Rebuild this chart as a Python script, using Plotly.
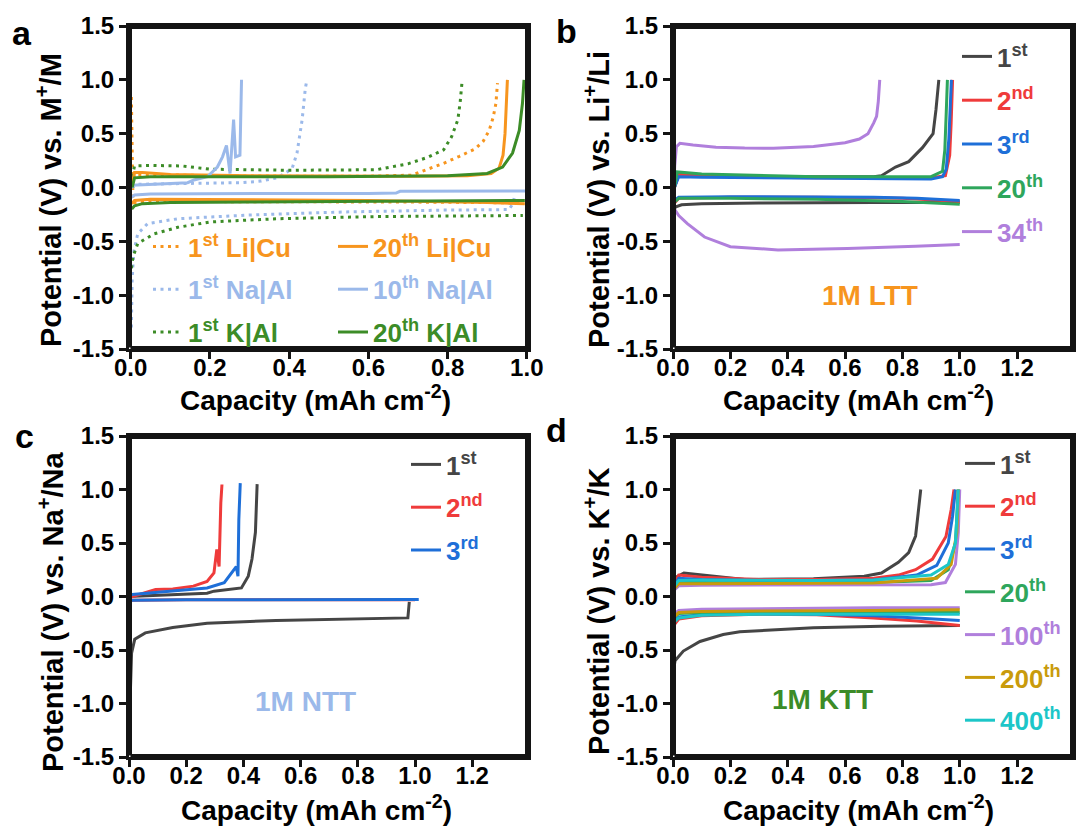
import plotly.graph_objects as go

W, H = 1077, 830
FONT = "Liberation Sans, Arial, sans-serif"

# ---------------- colours ----------------
INK = "#141414"
ORANGE = "#F7951E"
LBLUE = "#9BB9EA"
GREEN = "#3C8C27"
GRAY = "#454545"
RED = "#EF3B3B"
BLUE = "#1E6FD8"
GREEN2 = "#2EA65C"
PURPLE = "#B07FDC"
GOLD = "#C99B0C"
CYAN = "#1CC6C8"

# ---------------- tick values ----------------
x_major_a = [0.0, 0.2, 0.4, 0.6, 0.8, 1.0]
x_minor_a = [0.1, 0.3, 0.5, 0.7, 0.9]
x_major_bcd = [0.0, 0.2, 0.4, 0.6, 0.8, 1.0, 1.2]
x_minor_bcd = [0.1, 0.3, 0.5, 0.7, 0.9, 1.1, 1.3]
y_major = [-1.5, -1.0, -0.5, 0.0, 0.5, 1.0, 1.5]
y_minor = [-1.25, -0.75, -0.25, 0.25, 0.75, 1.25]

# ---------------- panel a (Li|Cu, Na|Al, K|Al) ----------------
a_li1_dis_x = [0.002, 0.003, 0.004, 0.006, 0.01, 0.03, 0.1, 0.3, 0.5, 0.7, 0.9, 0.99]
a_li1_dis_v = [0.84, 0.5, 0.1, -0.12, -0.14, -0.135, -0.13, -0.13, -0.13, -0.135, -0.14, -0.145]
a_li1_chg_x = [0.002, 0.01, 0.05, 0.2, 0.4, 0.6, 0.71, 0.75, 0.79, 0.83, 0.87, 0.89, 0.905, 0.915, 0.922, 0.926]
a_li1_chg_v = [0.02, 0.12, 0.12, 0.11, 0.105, 0.105, 0.115, 0.17, 0.225, 0.29, 0.36, 0.43, 0.53, 0.65, 0.78, 0.97]
a_li20_dis_x = [0.003, 0.01, 0.05, 0.2, 0.4, 0.6, 0.8, 0.9, 0.995]
a_li20_dis_v = [-0.15, -0.12, -0.11, -0.11, -0.115, -0.12, -0.13, -0.14, -0.15]
a_li20_chg_x = [0.004, 0.01, 0.03, 0.1, 0.3, 0.5, 0.7, 0.85, 0.91, 0.93, 0.94, 0.945, 0.948, 0.951]
a_li20_chg_v = [0.02, 0.14, 0.14, 0.12, 0.11, 0.105, 0.105, 0.11, 0.13, 0.18, 0.3, 0.5, 0.75, 1.0]
a_na1_dis_x = [0.002, 0.004, 0.008, 0.018, 0.043, 0.12, 0.29, 0.54, 0.79, 0.955, 0.965, 0.97]
a_na1_dis_v = [-1.3, -0.85, -0.6, -0.43, -0.335, -0.29, -0.257, -0.227, -0.21, -0.205, -0.15, -0.07]
a_na1_chg_x = [0.003, 0.02, 0.1, 0.2, 0.28, 0.33, 0.37, 0.395, 0.408, 0.42, 0.433, 0.441, 0.444]
a_na1_chg_v = [0.0, 0.03, 0.035, 0.04, 0.045, 0.06, 0.09, 0.145, 0.18, 0.32, 0.63, 0.92, 0.98]
a_na10_dis_x = [0.002, 0.01, 0.05, 0.2, 0.4, 0.6, 0.67, 0.68, 0.8, 0.9, 1.0]
a_na10_dis_v = [-0.09, -0.07, -0.06, -0.056, -0.055, -0.055, -0.052, -0.035, -0.033, -0.032, -0.032]
a_na10_chg_x = [0.003, 0.05, 0.1, 0.144, 0.16, 0.194, 0.219, 0.232, 0.242, 0.251, 0.26, 0.265, 0.276, 0.278, 0.28]
a_na10_chg_v = [0.02, 0.03, 0.035, 0.045, 0.07, 0.1, 0.19, 0.285, 0.39, 0.13, 0.63, 0.285, 0.3, 0.6, 1.0]
a_k1_dis_x = [0.002, 0.006, 0.018, 0.06, 0.119, 0.2, 0.37, 0.62, 0.8, 0.99]
a_k1_dis_v = [-0.75, -0.646, -0.52, -0.43, -0.37, -0.32, -0.29, -0.27, -0.265, -0.26]
a_k1_chg_x = [0.004, 0.01, 0.05, 0.13, 0.2, 0.4, 0.62, 0.7, 0.75, 0.79, 0.81, 0.826, 0.832, 0.837]
a_k1_chg_v = [0.1, 0.2, 0.205, 0.2, 0.17, 0.16, 0.165, 0.22, 0.28, 0.35, 0.47, 0.63, 0.8, 1.0]
a_k20_dis_x = [0.003, 0.01, 0.03, 0.1, 0.3, 0.6, 0.9, 0.995]
a_k20_dis_v = [-0.2, -0.17, -0.15, -0.14, -0.135, -0.13, -0.125, -0.12]
a_k20_chg_x = [0.004, 0.01, 0.05, 0.2, 0.5, 0.8, 0.9, 0.939, 0.964, 0.981, 0.989, 0.993]
a_k20_chg_v = [0.0, 0.09, 0.1, 0.1, 0.1, 0.11, 0.13, 0.19, 0.32, 0.53, 0.78, 1.0]

# ---------------- panel b (1M LTT) ----------------
b_c1_dis_x = [0.003, 0.01, 0.03, 0.1, 0.3, 0.5, 0.7, 0.9, 1.0]
b_c1_dis_v = [-0.2, -0.18, -0.16, -0.15, -0.145, -0.14, -0.14, -0.14, -0.14]
b_c1_chg_x = [0.005, 0.02, 0.1, 0.3, 0.5, 0.7, 0.727, 0.776, 0.822, 0.87, 0.907, 0.917, 0.927]
b_c1_chg_v = [0.0, 0.12, 0.11, 0.1, 0.1, 0.1, 0.11, 0.19, 0.24, 0.37, 0.5, 0.72, 1.0]
b_c2_dis_x = [0.003, 0.02, 0.2, 0.5, 0.8, 1.0]
b_c2_dis_v = [-0.15, -0.1, -0.09, -0.09, -0.1, -0.13]
b_c2_chg_x = [0.005, 0.02, 0.1, 0.3, 0.5, 0.7, 0.9, 0.95, 0.965, 0.97, 0.975]
b_c2_chg_v = [0.0, 0.12, 0.11, 0.095, 0.09, 0.09, 0.09, 0.11, 0.3, 0.6, 1.0]
b_c3_dis_x = [0.003, 0.02, 0.2, 0.5, 0.7, 0.85, 1.0]
b_c3_dis_v = [-0.12, -0.09, -0.085, -0.085, -0.09, -0.1, -0.12]
b_c3_chg_x = [0.005, 0.02, 0.1, 0.3, 0.5, 0.7, 0.9, 0.94, 0.953, 0.962, 0.967, 0.971]
b_c3_chg_v = [0.0, 0.1, 0.095, 0.09, 0.085, 0.08, 0.08, 0.1, 0.17, 0.45, 0.7, 1.0]
b_c20_dis_x = [0.003, 0.02, 0.2, 0.5, 0.8, 1.0]
b_c20_dis_v = [-0.14, -0.1, -0.1, -0.11, -0.13, -0.155]
b_c20_chg_x = [0.005, 0.015, 0.1, 0.3, 0.5, 0.7, 0.9, 0.94, 0.948, 0.953, 0.957]
b_c20_chg_v = [0.0, 0.145, 0.125, 0.11, 0.1, 0.1, 0.1, 0.15, 0.35, 0.7, 1.0]
b_c34_dis_x = [0.0, 0.005, 0.02, 0.05, 0.11, 0.2, 0.366, 0.5, 0.608, 0.846, 1.0]
b_c34_dis_v = [-0.1, -0.2, -0.26, -0.335, -0.46, -0.55, -0.58, -0.575, -0.567, -0.545, -0.53]
b_c34_chg_x = [0.0, 0.006, 0.012, 0.024, 0.07, 0.15, 0.25, 0.35, 0.49, 0.6, 0.65, 0.68, 0.7, 0.71, 0.716, 0.721]
b_c34_chg_v = [-0.15, 0.2, 0.38, 0.41, 0.395, 0.375, 0.366, 0.365, 0.38, 0.415, 0.45, 0.5, 0.6, 0.66, 0.8, 1.0]

# ---------------- panel c (1M NTT) ----------------
c_c1_dis_x = [0.0, 0.003, 0.006, 0.009, 0.02, 0.057, 0.153, 0.273, 0.514, 0.755, 0.975, 0.98]
c_c1_dis_v = [-1.3, -1.0, -0.7, -0.53, -0.4, -0.34, -0.29, -0.25, -0.224, -0.21, -0.2, -0.05]
c_c1_chg_x = [0.0, 0.153, 0.273, 0.297, 0.393, 0.417, 0.43, 0.442, 0.448]
c_c1_chg_v = [0.0, 0.017, 0.03, 0.05, 0.08, 0.19, 0.35, 0.6, 1.05]
c_c2_dis_x = [0.0, 0.01, 0.2, 0.5, 0.8, 1.0]
c_c2_dis_v = [-0.06, -0.035, -0.03, -0.03, -0.03, -0.03]
c_c2_chg_x = [0.0, 0.093, 0.153, 0.225, 0.273, 0.297, 0.307, 0.315, 0.321, 0.325]
c_c2_chg_v = [-0.01, 0.065, 0.07, 0.097, 0.14, 0.22, 0.44, 0.28, 0.875, 1.047]
c_c3_dis_x = [0.0, 0.01, 0.2, 0.5, 0.8, 1.013]
c_c3_dis_v = [-0.044, -0.035, -0.03, -0.03, -0.028, -0.028]
c_c3_chg_x = [0.0, 0.153, 0.273, 0.333, 0.357, 0.375, 0.381, 0.384, 0.389]
c_c3_chg_v = [0.017, 0.05, 0.08, 0.13, 0.21, 0.28, 0.19, 0.72, 1.06]

# ---------------- panel d (1M KTT) ----------------
d_c1_dis_x = [0.0, 0.007, 0.036, 0.094, 0.175, 0.233, 0.49, 0.727, 1.0]
d_c1_dis_v = [-0.73, -0.6, -0.51, -0.42, -0.355, -0.33, -0.293, -0.278, -0.27]
d_c1_chg_x = [0.0, 0.01, 0.038, 0.133, 0.25, 0.49, 0.667, 0.727, 0.786, 0.822, 0.846, 0.855, 0.864]
d_c1_chg_v = [0.1, 0.18, 0.22, 0.19, 0.159, 0.165, 0.19, 0.22, 0.32, 0.41, 0.565, 0.78, 1.0]
d_c2_dis_x = [0.0, 0.02, 0.1, 0.3, 0.5, 0.7, 0.85, 1.0]
d_c2_dis_v = [-0.28, -0.21, -0.18, -0.165, -0.17, -0.2, -0.23, -0.27]
d_c2_chg_x = [0.0, 0.02, 0.1, 0.3, 0.5, 0.7, 0.786, 0.846, 0.905, 0.952, 0.97, 0.98]
d_c2_chg_v = [0.1, 0.2, 0.18, 0.16, 0.16, 0.17, 0.2, 0.25, 0.35, 0.56, 0.81, 1.0]
d_c3_dis_x = [0.0, 0.02, 0.1, 0.3, 0.5, 0.7, 0.85, 1.0]
d_c3_dis_v = [-0.24, -0.19, -0.17, -0.16, -0.165, -0.18, -0.2, -0.225]
d_c3_chg_x = [0.0, 0.02, 0.1, 0.3, 0.5, 0.7, 0.85, 0.92, 0.96, 0.975, 0.985]
d_c3_chg_v = [0.08, 0.17, 0.16, 0.15, 0.15, 0.155, 0.2, 0.29, 0.5, 0.75, 1.0]
d_c20_dis_x = [0.0, 0.02, 0.1, 0.3, 0.5, 0.7, 1.0]
d_c20_dis_v = [-0.2, -0.16, -0.15, -0.145, -0.145, -0.145, -0.15]
d_c20_chg_x = [0.0, 0.02, 0.1, 0.3, 0.5, 0.7, 0.9, 0.96, 0.985, 0.99, 0.995]
d_c20_chg_v = [0.06, 0.13, 0.13, 0.125, 0.125, 0.13, 0.15, 0.25, 0.5, 0.75, 1.0]
d_c100_dis_x = [0.0, 0.02, 0.1, 0.3, 0.5, 0.7, 1.0]
d_c100_dis_v = [-0.17, -0.13, -0.12, -0.115, -0.11, -0.105, -0.105]
d_c100_chg_x = [0.0, 0.02, 0.1, 0.3, 0.5, 0.7, 0.9, 0.95, 0.985, 0.995, 1.0]
d_c100_chg_v = [0.05, 0.1, 0.105, 0.105, 0.105, 0.105, 0.11, 0.13, 0.3, 0.6, 1.0]
d_c200_dis_x = [0.0, 0.02, 0.1, 0.3, 0.5, 0.7, 1.0]
d_c200_dis_v = [-0.2, -0.15, -0.14, -0.135, -0.13, -0.13, -0.125]
d_c200_chg_x = [0.0, 0.02, 0.1, 0.3, 0.5, 0.7, 0.92, 0.97, 0.99, 0.995]
d_c200_chg_v = [0.06, 0.12, 0.12, 0.12, 0.12, 0.125, 0.17, 0.3, 0.6, 1.0]
d_c400_dis_x = [0.0, 0.02, 0.1, 0.3, 0.5, 0.7, 1.0]
d_c400_dis_v = [-0.25, -0.2, -0.175, -0.165, -0.165, -0.165, -0.165]
d_c400_chg_x = [0.0, 0.02, 0.1, 0.3, 0.5, 0.7, 0.9, 0.96, 0.985, 0.995]
d_c400_chg_v = [0.08, 0.15, 0.155, 0.15, 0.15, 0.155, 0.2, 0.3, 0.5, 1.0]

# ---------------- layout helpers ----------------
def fx(p):
    return p / W


def fy(p):
    return 1 - p / H


COL1_PX = (129, 528)
COL2_PX = (673, 1073)
ROW1_PX = (26, 349)
ROW2_PX = (436, 757)
COL1 = [fx(COL1_PX[0]), fx(COL1_PX[1])]
COL2 = [fx(COL2_PX[0]), fx(COL2_PX[1])]
ROW1 = [fy(ROW1_PX[1]), fy(ROW1_PX[0])]
ROW2 = [fy(ROW2_PX[1]), fy(ROW2_PX[0])]
XR_A = [-0.004, 1.003]
XR_B = [0.0, 1.395]
YR = [-1.5, 1.5]

DOT = "3px,4.5px"

fig = go.Figure()


def label(text, color):
    return f'<span style="color:{color}">{text}</span>'


def refs(sub):
    return ("x" if sub == 1 else f"x{sub}"), ("y" if sub == 1 else f"y{sub}")


def add_curve(sub, legend, group, name, color, dash, dis_x, dis_v, chg_x, chg_v):
    xs = list(dis_x) + [None] + list(chg_x)
    ys = list(dis_v) + [None] + list(chg_v)
    xa, ya = refs(sub)
    fig.add_trace(go.Scatter(
        x=xs, y=ys, mode="lines", connectgaps=False,
        line=dict(color=color, width=3, dash=dash),
        name=label(name, color), legend=legend, legendgroup=group,
        xaxis=xa, yaxis=ya))


# panel a
add_curve(1, "legend", "a1", "1<sup>st</sup> Li|Cu", ORANGE, DOT, a_li1_dis_x, a_li1_dis_v, a_li1_chg_x, a_li1_chg_v)
add_curve(1, "legend", "a2", "1<sup>st</sup> Na|Al", LBLUE, DOT, a_na1_dis_x, a_na1_dis_v, a_na1_chg_x, a_na1_chg_v)
add_curve(1, "legend", "a3", "1<sup>st</sup> K|Al", GREEN, DOT, a_k1_dis_x, a_k1_dis_v, a_k1_chg_x, a_k1_chg_v)
add_curve(1, "legend2", "a4", "20<sup>th</sup> Li|Cu", ORANGE, "solid", a_li20_dis_x, a_li20_dis_v, a_li20_chg_x, a_li20_chg_v)
add_curve(1, "legend2", "a5", "10<sup>th</sup> Na|Al", LBLUE, "solid", a_na10_dis_x, a_na10_dis_v, a_na10_chg_x, a_na10_chg_v)
add_curve(1, "legend2", "a6", "20<sup>th</sup> K|Al", GREEN, "solid", a_k20_dis_x, a_k20_dis_v, a_k20_chg_x, a_k20_chg_v)

# panel b
add_curve(2, "legend3", "b1", "1<sup>st</sup>", GRAY, "solid", b_c1_dis_x, b_c1_dis_v, b_c1_chg_x, b_c1_chg_v)
add_curve(2, "legend3", "b2", "2<sup>nd</sup>", RED, "solid", b_c2_dis_x, b_c2_dis_v, b_c2_chg_x, b_c2_chg_v)
add_curve(2, "legend3", "b3", "3<sup>rd</sup>", BLUE, "solid", b_c3_dis_x, b_c3_dis_v, b_c3_chg_x, b_c3_chg_v)
add_curve(2, "legend3", "b4", "20<sup>th</sup>", GREEN2, "solid", b_c20_dis_x, b_c20_dis_v, b_c20_chg_x, b_c20_chg_v)
add_curve(2, "legend3", "b5", "34<sup>th</sup>", PURPLE, "solid", b_c34_dis_x, b_c34_dis_v, b_c34_chg_x, b_c34_chg_v)

# panel c
add_curve(3, "legend4", "c1", "1<sup>st</sup>", GRAY, "solid", c_c1_dis_x, c_c1_dis_v, c_c1_chg_x, c_c1_chg_v)
add_curve(3, "legend4", "c2", "2<sup>nd</sup>", RED, "solid", c_c2_dis_x, c_c2_dis_v, c_c2_chg_x, c_c2_chg_v)
add_curve(3, "legend4", "c3", "3<sup>rd</sup>", BLUE, "solid", c_c3_dis_x, c_c3_dis_v, c_c3_chg_x, c_c3_chg_v)

# panel d
add_curve(4, "legend5", "d1", "1<sup>st</sup>", GRAY, "solid", d_c1_dis_x, d_c1_dis_v, d_c1_chg_x, d_c1_chg_v)
add_curve(4, "legend5", "d2", "2<sup>nd</sup>", RED, "solid", d_c2_dis_x, d_c2_dis_v, d_c2_chg_x, d_c2_chg_v)
add_curve(4, "legend5", "d3", "3<sup>rd</sup>", BLUE, "solid", d_c3_dis_x, d_c3_dis_v, d_c3_chg_x, d_c3_chg_v)
add_curve(4, "legend5", "d4", "20<sup>th</sup>", GREEN2, "solid", d_c20_dis_x, d_c20_dis_v, d_c20_chg_x, d_c20_chg_v)
add_curve(4, "legend5", "d5", "100<sup>th</sup>", PURPLE, "solid", d_c100_dis_x, d_c100_dis_v, d_c100_chg_x, d_c100_chg_v)
add_curve(4, "legend5", "d6", "200<sup>th</sup>", GOLD, "solid", d_c200_dis_x, d_c200_dis_v, d_c200_chg_x, d_c200_chg_v)
add_curve(4, "legend5", "d7", "400<sup>th</sup>", CYAN, "solid", d_c400_dis_x, d_c400_dis_v, d_c400_chg_x, d_c400_chg_v)


# frame (inset line trace, inside the plot area) and tick marks (unclipped line markers)
def frame_and_ticks(sub, xr, colpx, rowpx, xmaj, xmin):
    xa, ya = refs(sub)
    ux = (xr[1] - xr[0]) / (colpx[1] - colpx[0])      # data units per pixel (x)
    uy = (YR[1] - YR[0]) / (rowpx[1] - rowpx[0])      # data units per pixel (y)
    x0, x1 = xr[0] + 1.5 * ux, xr[1] - 1.5 * ux
    y0, y1 = YR[0] + 1.5 * uy, YR[1] - 1.5 * uy
    fig.add_trace(go.Scatter(x=[x0, x1, x1, x0, x0], y=[y0, y0, y1, y1, y0], mode="lines",
                             line=dict(color=INK, width=3), xaxis=xa, yaxis=ya,
                             showlegend=False))
    for vals, ln, wd in ((xmaj, 8, 2.5), (xmin, 5, 2)):
        fig.add_trace(go.Scatter(
            x=vals, y=[YR[0] - ln / 2 * uy] * len(vals), mode="markers", cliponaxis=False,
            marker=dict(symbol="line-ns", size=ln, color=INK, line=dict(color=INK, width=wd)),
            xaxis=xa, yaxis=ya, showlegend=False))
    for vals, ln, wd in ((y_major, 8, 2.5), (y_minor, 5, 2)):
        fig.add_trace(go.Scatter(
            x=[xr[0] - ln / 2 * ux] * len(vals), y=vals, mode="markers", cliponaxis=False,
            marker=dict(symbol="line-ew", size=ln, color=INK, line=dict(color=INK, width=wd)),
            xaxis=xa, yaxis=ya, showlegend=False))


frame_and_ticks(1, XR_A, COL1_PX, ROW1_PX, x_major_a, x_minor_a)
frame_and_ticks(2, XR_B, COL2_PX, ROW1_PX, x_major_bcd, x_minor_bcd)
frame_and_ticks(3, XR_B, COL1_PX, ROW2_PX, x_major_bcd, x_minor_bcd)
frame_and_ticks(4, XR_B, COL2_PX, ROW2_PX, x_major_bcd, x_minor_bcd)

TICKFONT = dict(family=FONT, size=24, color="#000000", weight="bold")


def xaxis(domain, anchor, rng, vals):
    return dict(domain=domain, anchor=anchor, range=rng,
                tickmode="array", tickvals=vals, ticktext=[f"{v:.1f}" for v in vals],
                ticks="outside", ticklen=7, tickwidth=2.5, tickcolor=INK,
                showline=True, linewidth=3, linecolor=INK, mirror=True,
                showgrid=False, zeroline=False, tickfont=TICKFONT, ticklabelstandoff=-12)


def yaxis(domain, anchor):
    return dict(domain=domain, anchor=anchor, range=YR,
                tickmode="array", tickvals=y_major, ticktext=[f"{v:.1f}" for v in y_major],
                ticks="outside", ticklen=7, tickwidth=2.5, tickcolor=INK,
                showline=True, linewidth=3, linecolor=INK, mirror=True,
                showgrid=False, zeroline=False, tickfont=TICKFONT)


LEGFONT = dict(family=FONT, size=26, weight="bold")


def legend(xp, yp, gap=6):
    return dict(x=fx(xp), y=fy(yp), xanchor="left", yanchor="top",
                bgcolor="rgba(255,255,255,0)", borderwidth=0, font=LEGFONT,
                traceorder="grouped", tracegroupgap=gap)


ann = []


def text(xp, yp, t, size, color="#000000", angle=0):
    ann.append(dict(x=fx(xp), y=fy(yp), xref="paper", yref="paper", text=t,
                    showarrow=False, xanchor="center", yanchor="middle", textangle=angle,
                    font=dict(family=FONT, size=size, color=color, weight="bold")))


XT = "Capacity (mAh cm<sup>-2</sup>)"
text(315, 398, XT, 28)
text(858, 398, XT, 28)
text(316, 808, XT, 28)
text(858, 808, XT, 28)
text(49, 200, "Potential (V) vs. M<sup>+</sup>/M", 29, angle=-90)
text(597, 200, "Potential (V) vs. Li<sup>+</sup>/Li", 29, angle=-90)
text(51, 612, "Potential (V) vs. Na<sup>+</sup>/Na", 29, angle=-90)
text(597, 612, "Potential (V) vs. K<sup>+</sup>/K", 29, angle=-90)
text(22, 33, "a", 34)
text(566, 31, "b", 34)
text(24, 436, "c", 34)
text(556, 430, "d", 34)
text(870, 295, "1M LTT", 28, ORANGE)
text(305, 701, "1M NTT", 28, LBLUE)
text(822, 699, "1M KTT", 28, GREEN)

fig.update_layout(
    width=W, height=H, margin=dict(l=0, r=0, t=0, b=0, autoexpand=False),
    paper_bgcolor="white", plot_bgcolor="white",
    xaxis=xaxis(COL1, "y", XR_A, x_major_a),
    yaxis=yaxis(ROW1, "x"),
    xaxis2=xaxis(COL2, "y2", XR_B, x_major_bcd),
    yaxis2=yaxis(ROW1, "x2"),
    xaxis3=xaxis(COL1, "y3", XR_B, x_major_bcd),
    yaxis3=yaxis(ROW2, "x3"),
    xaxis4=xaxis(COL2, "y4", XR_B, x_major_bcd),
    yaxis4=yaxis(ROW2, "x4"),
    legend=legend(148, 223),
    legend2=legend(333, 223),
    legend3=legend(957, 33, 7),
    legend4=legend(406, 441),
    legend5=legend(960, 440),
    annotations=ann,
    showlegend=True,
)

fig.write_html("out.html")
